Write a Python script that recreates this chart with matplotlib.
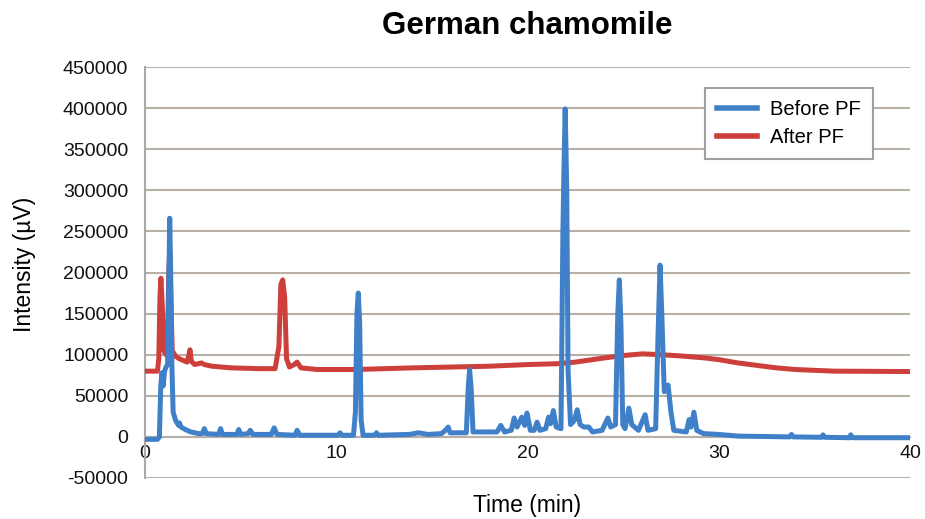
import numpy as np
import matplotlib
matplotlib.use("Agg")
import matplotlib.pyplot as plt

plt.rcParams['font.family'] = ['Liberation Sans', 'DejaVu Sans']

# chromatogram traces, (time min, intensity uV)
before_pf = [
    (0.0, -3000), (0.65, -3000), (0.75, 0), (0.82, 60000), (0.88, 78000),
    (0.95, 62000), (1.02, 80000), (1.1, 85000), (1.18, 88000), (1.24, 180000),
    (1.29, 266000), (1.34, 200000), (1.4, 90000), (1.47, 30000), (1.6, 20000),
    (1.75, 14000), (1.8, 17000), (1.88, 12000), (2.1, 9000), (2.4, 6000),
    (2.8, 4000), (3.0, 4000), (3.1, 10000), (3.2, 4000), (3.85, 3000),
    (3.95, 10000), (4.05, 3000), (4.8, 3000), (4.9, 9000), (5.0, 3000),
    (5.4, 4000), (5.5, 8000), (5.65, 3000), (6.6, 3000), (6.75, 11000),
    (6.9, 3000), (7.85, 2000), (7.95, 8000), (8.1, 2000), (10.1, 2000),
    (10.2, 5000), (10.3, 2000), (10.9, 2000), (11.0, 30000), (11.08, 150000),
    (11.15, 175000), (11.22, 140000), (11.3, 20000), (11.4, 2000), (12.0, 2000),
    (12.1, 5000), (12.2, 2000), (13.8, 3000), (14.3, 5000), (14.8, 3000),
    (15.5, 4000), (15.75, 9000), (15.85, 12000), (15.95, 5000), (16.8, 5000),
    (16.9, 60000), (16.97, 82000), (17.05, 60000), (17.15, 6000), (18.4, 6000),
    (18.6, 14000), (18.8, 6000), (19.15, 8000), (19.3, 23000), (19.45, 12000),
    (19.7, 24000), (19.85, 14000), (19.97, 29000), (20.15, 8000), (20.35, 8000),
    (20.5, 18000), (20.65, 8000), (20.95, 10000), (21.1, 24000), (21.2, 16000),
    (21.35, 32000), (21.5, 12000), (21.75, 10000), (21.85, 250000), (21.9, 320000),
    (21.97, 399000), (22.05, 300000), (22.12, 80000), (22.25, 15000), (22.45, 20000),
    (22.6, 33000), (22.75, 15000), (22.95, 12000), (23.2, 12000), (23.4, 6000),
    (23.9, 8000), (24.2, 23000), (24.35, 12000), (24.6, 15000), (24.72, 150000),
    (24.8, 191000), (24.88, 140000), (24.98, 15000), (25.1, 10000), (25.3, 35000),
    (25.45, 15000), (25.8, 8000), (26.15, 27000), (26.3, 8000), (26.7, 10000),
    (26.82, 120000), (26.93, 209000), (27.02, 150000), (27.15, 55000), (27.35, 63000),
    (27.5, 30000), (27.65, 8000), (28.3, 6000), (28.45, 21000), (28.55, 12000),
    (28.7, 30000), (28.85, 8000), (29.2, 4000), (30.0, 3000), (31.0, 1000),
    (33.7, 0), (33.8, 3000), (33.9, 0), (35.4, -500), (35.45, 2500),
    (35.55, -500), (36.85, -1000), (36.9, 2500), (37.0, -1000), (40.0, -1000),
]

after_pf = [
    (0.0, 80000), (0.65, 80000), (0.72, 95000), (0.78, 170000), (0.83, 193000),
    (0.9, 160000), (0.98, 105000), (1.1, 100000), (1.18, 120000), (1.24, 200000),
    (1.29, 225000), (1.35, 170000), (1.42, 105000), (1.6, 98000), (1.8, 95000),
    (2.0, 93000), (2.2, 91000), (2.3, 100000), (2.35, 106000), (2.42, 92000),
    (2.6, 88000), (2.95, 90000), (3.1, 88000), (3.5, 86000), (4.5, 84000),
    (6.0, 83000), (6.8, 83000), (7.0, 110000), (7.1, 185000), (7.2, 191000),
    (7.3, 170000), (7.4, 95000), (7.55, 85000), (7.8, 88000), (7.95, 91000),
    (8.15, 84000), (9.0, 82000), (11.0, 82000), (12.5, 83000), (14.0, 84000),
    (16.0, 85000), (18.0, 86000), (20.0, 88000), (21.5, 89000), (22.5, 91000),
    (24.0, 96000), (25.0, 99000), (26.0, 101000), (27.0, 100000), (28.0, 98500),
    (29.3, 96000), (30.0, 94000), (31.0, 90000), (32.0, 87000), (33.0, 84000),
    (34.0, 82000), (35.0, 81000), (36.0, 80000), (40.0, 79500),
]

y_ticks = np.arange(-50000, 450001, 50000)
x_ticks = [0, 10, 20, 30, 40]

blue = '#4080C8'
red = '#CC3F3B'
grid_col = '#B8AFA6'

fig = plt.figure(figsize=(9.25, 5.19), dpi=100)
ax = fig.add_axes([0.1568, 0.079, 0.8270, 0.7919])

t_b, v_b = np.array(before_pf).T
t_a, v_a = np.array(after_pf).T
ax.plot(t_a, v_a, color=red, lw=3.6, label='After PF', zorder=3, solid_joinstyle='round')
ax.plot(t_b, v_b, color=blue, lw=3.6, label='Before PF', zorder=4, solid_joinstyle='round')

ax.set_xlim(0, 40)
ax.set_ylim(-50000, 450000)
ax.set_yticks(y_ticks)
ax.set_yticklabels([str(v) for v in y_ticks])
ax.set_xticks(x_ticks)
ax.tick_params(length=0, labelsize=14, colors='#111111')
ax.tick_params(axis='x', pad=6)
ax.tick_params(axis='y', pad=12)

ax.grid(axis='y', color=grid_col, lw=1.5, zorder=0)
for s in ['top', 'right']:
    ax.spines[s].set_visible(False)
ax.spines['bottom'].set_position(('data', 0))
ax.spines['bottom'].set_color(grid_col)
ax.spines['bottom'].set_linewidth(1.5)
ax.spines['left'].set_color('#A9A9A9')
ax.spines['left'].set_linewidth(1.5)

ax.set_title('German chamomile', fontsize=22.5, fontweight='bold', pad=24)
ax.set_ylabel('Intensity (\u00b5V)', fontsize=16.5)
ax.yaxis.set_label_coords(-0.143, 0.52)
ax.set_xlabel('Time (min)', fontsize=16.5)
ax.xaxis.set_label_coords(0.5, -0.038)

h, l = ax.get_legend_handles_labels()
leg = ax.legend(h[::-1], l[::-1], loc='upper right', bbox_to_anchor=(0.952, 0.949),
                borderaxespad=0, fontsize=14.5, handlelength=2.0, handletextpad=0.65,
                labelspacing=0.45, fancybox=False, framealpha=1, edgecolor='#A0A0A0',
                borderpad=0.6)
leg.get_frame().set_linewidth(1.5)
for line in leg.get_lines():
    line.set_linewidth(4)

fig.savefig('out.png', dpi=100)
